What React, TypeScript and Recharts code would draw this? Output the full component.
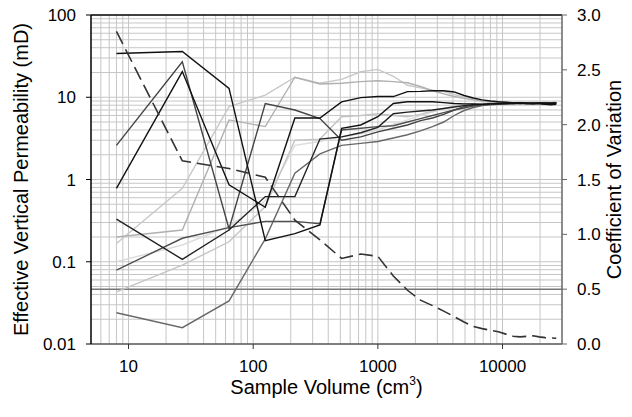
import React from 'react';
import { ComposedChart, Line, XAxis, YAxis, CartesianGrid, ReferenceLine } from 'recharts';

const volumes = [8, 27, 64, 125, 216, 343, 512, 729, 1000, 1331, 1728, 2197, 2744, 3375, 4096, 4913, 5832, 6859, 8000, 9261, 10648, 12167, 13824, 15625, 17576, 19683, 21952, 24389, 27000];

const s1 = [34, 36, 12.8, 0.18, 0.22, 0.28, 4.2, 4.6, 5.8, 8.4, 8.8, 8.8, 8.8, 8.6, 8.4, 8.3, 8.3, 8.2, 8.3, 8.4, 8.4, 8.5, 8.5, 8.4, 8.4, 8.5, 8.3, 8.4, 8.5];
const s2 = [2.6, 27, 0.25, 8.4, 7.0, 5.5, 3.0, 3.3, 3.8, 4.2, 4.6, 5.2, 5.6, 6.2, 7.0, 7.7, 8.0, 8.2, 8.3, 8.4, 8.4, 8.5, 8.4, 8.5, 8.6, 8.5, 8.5, 8.4, 8.6];
const s3 = [0.78, 20.5, 0.86, 0.46, 5.6, 5.6, 8.8, 9.9, 10.2, 10.2, 11.7, 11.8, 12.0, 12.0, 11.6, 10.5, 9.8, 9.3, 9.0, 8.8, 8.7, 8.6, 8.5, 8.4, 8.3, 8.3, 8.2, 8.1, 8.2];
const s4 = [0.33, 0.107, 0.243, 0.62, 0.62, 3.1, 3.3, 3.7, 4.3, 6.3, 6.6, 6.8, 7.0, 7.3, 7.6, 7.9, 8.1, 8.2, 8.3, 8.3, 8.4, 8.4, 8.5, 8.5, 8.4, 8.5, 8.6, 8.5, 8.5];
const s5 = [0.167, 0.78, 7.7, 10.6, 17.5, 14.8, 16.5, 20.4, 21.8, 18.0, 14.0, 13.0, 12.2, 11.7, 10.8, 10.0, 9.5, 9.1, 8.9, 8.8, 8.7, 8.6, 8.5, 8.6, 8.5, 8.6, 8.5, 8.6, 8.7];
const s6 = [0.2, 0.243, 5.3, 4.4, 17.5, 14.5, 14.8, 15.5, 15.9, 15.5, 15.0, 13.5, 12.0, 11.0, 10.2, 9.7, 9.3, 9.0, 8.8, 8.7, 8.6, 8.6, 8.5, 8.5, 8.5, 8.5, 8.6, 8.6, 8.6];
const s7 = [0.079, 0.193, 0.26, 0.31, 0.31, 0.29, 4.0, 4.2, 4.4, 4.5, 5.0, 5.5, 6.0, 6.5, 7.0, 7.4, 7.8, 8.0, 8.2, 8.3, 8.4, 8.4, 8.5, 8.5, 8.5, 8.6, 8.5, 8.5, 8.6];
const s8 = [0.043, 0.091, 0.175, 0.47, 3.0, 3.1, 5.8, 6.0, 6.3, 6.0, 5.8, 6.2, 6.8, 7.3, 7.8, 8.1, 8.3, 8.4, 8.5, 8.5, 8.6, 8.6, 8.7, 8.6, 8.7, 8.6, 8.7, 8.6, 8.7];
const s9 = [0.024, 0.0158, 0.0334, 0.19, 1.19, 2.05, 2.6, 2.75, 2.9, 3.2, 3.5, 3.9, 4.4, 5.0, 6.0, 6.9, 7.5, 7.9, 8.1, 8.2, 8.3, 8.3, 8.4, 8.3, 8.4, 8.4, 8.3, 8.3, 8.4];
const s10 = [0.1, 0.16, 0.27, 0.55, 2.6, 2.9, 3.3, 3.6, 4.0, 4.7, 5.3, 6.0, 6.6, 7.2, 7.7, 8.0, 8.2, 8.3, 8.4, 8.5, 8.5, 8.6, 8.6, 8.6, 8.6, 8.7, 8.6, 8.7, 8.7];
const cv = [2.85, 1.67, 1.6, 1.52, 1.13, 0.95, 0.78, 0.82, 0.8, 0.62, 0.49, 0.4, 0.35, 0.3, 0.25, 0.2, 0.16, 0.14, 0.125, 0.112, 0.09, 0.07, 0.065, 0.07, 0.075, 0.065, 0.058, 0.055, 0.052];

const xLabelTicks = [10, 100, 1000, 10000];
const yLabelTicks = [0.01, 0.1, 1, 10, 100];
const cvTicks = [0, 0.5, 1.0, 1.5, 2.0, 2.5, 3.0];
const xDomain: [number, number] = [5, 30000];
const yDomain: [number, number] = [0.01, 100];

const xGridTicks: number[] = [];
for (let d = 0; d <= 4; d++) {
  for (let k = 1; k <= 9; k++) {
    const v = Number((k * Math.pow(10, d)).toPrecision(3));
    if (v > 5 && v < 30000) xGridTicks.push(v);
  }
}
const yGridTicks: number[] = [];
for (let d = -2; d <= 2; d++) {
  for (let k = 1; k <= 9; k++) {
    const v = Number((k * Math.pow(10, d)).toPrecision(3));
    if (v > 0.01 && v < 100) yGridTicks.push(v);
  }
}

const seriesList = [
  { key: 's10', values: s10, color: '#dcdcdc' },
  { key: 's8', values: s8, color: '#c4c4c4' },
  { key: 's5', values: s5, color: '#c8c8c8' },
  { key: 's6', values: s6, color: '#b0b0b0' },
  { key: 's9', values: s9, color: '#686868' },
  { key: 's7', values: s7, color: '#505050' },
  { key: 's2', values: s2, color: '#444444' },
  { key: 's4', values: s4, color: '#222222' },
  { key: 's3', values: s3, color: '#111111' },
  { key: 's1', values: s1, color: '#111111' },
];

const data = volumes.map((x, i) => {
  const row: Record<string, number> = { x, cv: cv[i] };
  seriesList.forEach((s) => {
    row[s.key] = s.values[i];
  });
  return row;
});

const FONT = '"Liberation Sans", Arial, sans-serif';

const logPos = (v: number, dom: [number, number], start: number, size: number) =>
  start + (size * (Math.log10(v) - Math.log10(dom[0]))) / (Math.log10(dom[1]) - Math.log10(dom[0]));

const vGen = (p: any) => {
  const off = p.offset;
  const sc = p.xAxis && typeof p.xAxis.scale === 'function' ? p.xAxis.scale : null;
  return xGridTicks.map((v) => (sc ? sc(v) : logPos(v, xDomain, off.left, off.width)));
};
const hGen = (p: any) => {
  const off = p.offset;
  const sc = p.yAxis && typeof p.yAxis.scale === 'function' ? p.yAxis.scale : null;
  return yGridTicks.map((v) => (sc ? sc(v) : off.top + off.height - logPos(v, yDomain, 0, off.height)));
};

export default function App() {
  return (
    <div style={{ position: 'absolute', left: 0, top: 0, width: 632, height: 417, background: '#fff' }}>
      <ComposedChart width={632} height={417} data={data} margin={{ top: 15, right: 0, bottom: 0, left: 0 }} style={{ fontFamily: FONT }}>
        <CartesianGrid xAxisId="m" yAxisId="L" stroke="#c6c6c6" strokeWidth={1}
          verticalCoordinatesGenerator={vGen} horizontalCoordinatesGenerator={hGen} />
        <XAxis xAxisId="m" dataKey="x" type="number" scale="log" domain={xDomain} ticks={xLabelTicks} allowDataOverflow
          tick={{ fontSize: 17, fill: '#000', fontFamily: FONT }} tickLine={{ stroke: '#333' }} tickSize={5} tickMargin={11}
          axisLine={{ stroke: '#555', strokeWidth: 1.5 }} height={73}
          label={{
            content: (p: any) => {
              const vb = p.viewBox || { x: 91, y: 344, width: 471, height: 73 };
              return (
                <text x={vb.x + vb.width / 2} y={vb.y + 50} textAnchor="middle" fontSize={20} fill="#000" fontFamily={FONT}>
                  <tspan>Sample Volume (cm</tspan>
                  <tspan fontSize={12} dy={-9}>3</tspan>
                  <tspan dy={9}>)</tspan>
                </text>
              );
            },
          }}
        />
        <YAxis yAxisId="L" type="number" scale="log" domain={yDomain} ticks={yLabelTicks} allowDataOverflow
          tickFormatter={(v: number) => String(v)}
          tick={{ fontSize: 17, fill: '#000', fontFamily: FONT }} tickLine={{ stroke: '#000' }} tickSize={5} tickMargin={10}
          axisLine={{ stroke: '#000', strokeWidth: 1.5 }} width={91}
          label={{
            content: (p: any) => {
              const vb = p.viewBox || { x: 0, y: 15, width: 91, height: 329 };
              const cx = 21;
              const cy = vb.y + vb.height / 2;
              return (
                <text x={cx} y={cy} transform={`rotate(-90 ${cx} ${cy})`} textAnchor="middle" dominantBaseline="central" fontSize={20} fill="#000" fontFamily={FONT}>
                  Effective Vertical Permeability (mD)
                </text>
              );
            },
          }}
        />
        <YAxis yAxisId="R" orientation="right" type="number" domain={[0, 3]} ticks={cvTicks} allowDataOverflow
          tickFormatter={(v: number) => v.toFixed(1)}
          tick={{ fontSize: 17, fill: '#000', fontFamily: FONT }} tickLine={{ stroke: '#666' }} tickSize={5} tickMargin={10}
          axisLine={{ stroke: '#666', strokeWidth: 1.5 }} width={70}
          label={{
            content: (p: any) => {
              const vb = p.viewBox || { x: 562, y: 15, width: 70, height: 329 };
              const cx = 614;
              const cy = vb.y + vb.height / 2;
              return (
                <text x={cx} y={cy} transform={`rotate(-90 ${cx} ${cy})`} textAnchor="middle" dominantBaseline="central" fontSize={20} fill="#000" fontFamily={FONT}>
                  Coefficient of Variation
                </text>
              );
            },
          }}
        />
        <ReferenceLine yAxisId="L" xAxisId="m" y={100} stroke="#000" strokeWidth={1.5} />
        <ReferenceLine yAxisId="R" xAxisId="m" y={0.5} stroke="#777" strokeWidth={1.5} />
        {seriesList.map((s) => (
          <Line key={s.key} xAxisId="m" yAxisId="L" dataKey={s.key} stroke={s.color} strokeWidth={1.4} dot={false} isAnimationActive={false} />
        ))}
        <Line xAxisId="m" yAxisId="R" dataKey="cv" stroke="#333" strokeWidth={1.6} strokeDasharray="14 6" dot={false} isAnimationActive={false} />
      </ComposedChart>
    </div>
  );
}
